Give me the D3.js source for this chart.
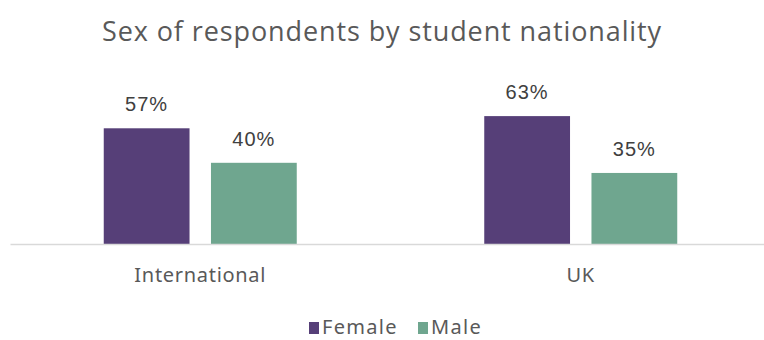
<!DOCTYPE html>
<html>
<head>
<meta charset="utf-8">
<script src="https://cdn.jsdelivr.net/npm/d3@7/dist/d3.min.js"></script>
<style>
  html, body { margin: 0; padding: 0; background: #ffffff; }
  svg { display: block; }
</style>
</head>
<body>
<svg id="chart" width="764" height="340"></svg>
<script>
const categories = ["International", "UK"];
const seriesNames = ["Female", "Male"];
const female = [0.57, 0.63];
const male = [0.40, 0.35];
const seriesColors = ["#563F78", "#6FA68F"];
const titleText = "Sex of respondents by student nationality";

const series = [female, male];
const rows = categories.map((c, i) => ({
  category: c,
  values: seriesNames.map((s, j) => ({ key: s, value: series[j][i] }))
}));

const svg = d3.select("#chart");
const W = 764, H = 340;

const x0 = d3.scaleBand().domain(categories).range([10, 771]).paddingInner(0).paddingOuter(0);
const x1 = d3.scaleBand().domain(seriesNames).range([0, 193]).paddingInner(0.2).paddingOuter(0);
const y = d3.scaleLinear().domain([0, 0.7]).range([244, 244 - 0.7 * 203]);
const color = d3.scaleOrdinal().domain(seriesNames).range(seriesColors);
const groupOffset = (x0.bandwidth() - 193) / 2;

// Title
svg.append("text")
  .attr("x", W / 2)
  .attr("y", 41)
  .attr("text-anchor", "middle")
  .attr("font-family", "'Open Sans', 'Noto Sans', sans-serif")
  .attr("font-size", 27)
  .attr("letter-spacing", 0.9)
  .attr("fill", "#595959")
  .text(titleText);

// Bars
const groups = svg.selectAll("g.group")
  .data(rows)
  .join("g")
  .attr("class", "group")
  .attr("transform", d => `translate(${x0(d.category) + groupOffset},0)`);

groups.selectAll("rect")
  .data(d => d.values)
  .join("rect")
  .attr("x", d => x1(d.key))
  .attr("width", x1.bandwidth())
  .attr("y", d => y(d.value))
  .attr("height", d => y(0) - y(d.value))
  .attr("fill", d => color(d.key));

// Value labels
groups.selectAll("text.val")
  .data(d => d.values)
  .join("text")
  .attr("class", "val")
  .attr("x", d => x1(d.key) + x1.bandwidth() / 2)
  .attr("y", d => y(d.value) - 17)
  .attr("text-anchor", "middle")
  .attr("font-family", "'Liberation Sans', Arial, sans-serif")
  .attr("font-size", 20)
  .attr("letter-spacing", 1)
  .attr("fill", "#404040")
  .text(d => d3.format(".0%")(d.value));

// Baseline axis
const xAxis = d3.axisBottom(x0).tickSize(0).tickPadding(24);
const axisG = svg.append("g")
  .attr("transform", `translate(0,${y(0)})`)
  .call(xAxis);
axisG.select(".domain").attr("stroke", "#d9d9d9").attr("stroke-width", 1.5);
axisG.selectAll(".tick text")
  .attr("font-family", "'Noto Sans', sans-serif")
  .attr("font-size", 20)
  .attr("letter-spacing", 0.7)
  .attr("fill", "#595959");

// Legend
const legendItems = [
  { key: "Female", x: 309 },
  { key: "Male", x: 418 }
];
const legend = svg.append("g");
legendItems.forEach(it => {
  legend.append("rect")
    .attr("x", it.x)
    .attr("y", 322)
    .attr("width", 10)
    .attr("height", 12)
    .attr("fill", color(it.key));
  legend.append("text")
    .attr("x", it.x + 13)
    .attr("y", 334)
    .attr("font-family", "'Noto Sans', sans-serif")
    .attr("font-size", 20)
    .attr("letter-spacing", 1.3)
    .attr("fill", "#595959")
    .text(it.key);
});
</script>
</body>
</html>
